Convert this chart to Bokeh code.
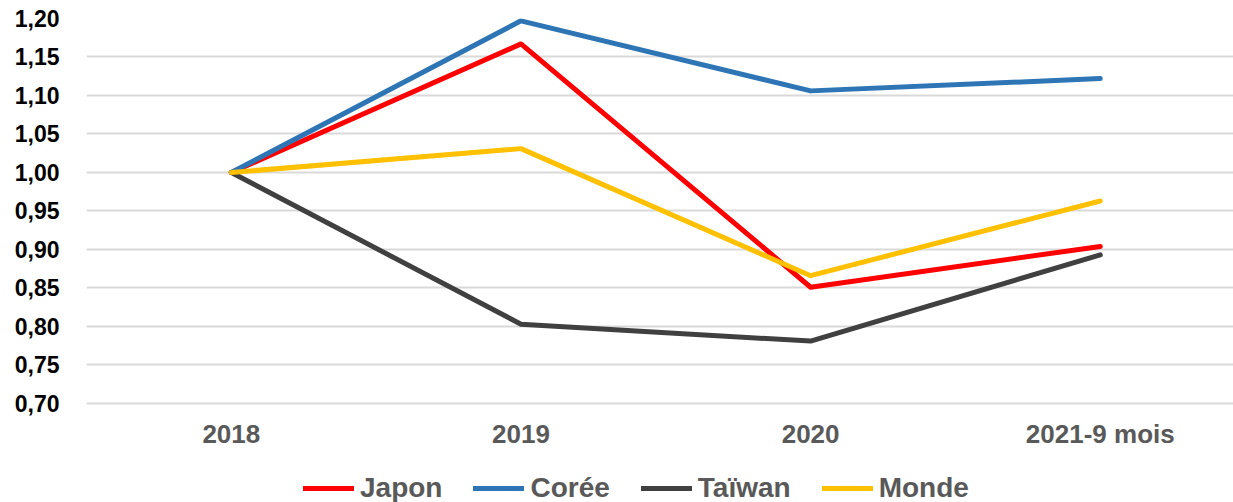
from bokeh.plotting import figure
from bokeh.models import Range1d, FixedTicker
from bokeh.embed import file_html
from bokeh.resources import INLINE

categories = ["2018", "2019", "2020", "2021-9 mois"]
japon = [1.00, 1.167, 0.851, 0.904]
coree = [1.00, 1.197, 1.106, 1.122]
taiwan = [1.00, 0.803, 0.781, 0.893]
monde = [1.00, 1.031, 0.866, 0.963]
series_names = ["Japon", "Corée", "Taïwan", "Monde"]
series_colors = ["#FF0000", "#2E75B6", "#404040", "#FFC000"]
y_ticks = [0.70, 0.75, 0.80, 0.85, 0.90, 0.95, 1.00, 1.05, 1.10, 1.15, 1.20]
y_tick_labels = ["0,70", "0,75", "0,80", "0,85", "0,90", "0,95", "1,00", "1,05", "1,10", "1,15", "1,20"]

xs = list(range(len(categories)))

p = figure(frame_width=1147, frame_height=484, output_backend="svg", toolbar_location=None,
           x_range=Range1d(-0.5, 3.46), y_range=Range1d(0.5714, 1.20),
           min_border_left=86, min_border_right=0, min_border_top=18, min_border_bottom=0)
p.outline_line_color = None

for name, vals, col in zip(series_names, [japon, coree, taiwan, monde], series_colors):
    p.line(xs, vals, line_color=col, line_width=5, line_cap="round", line_join="round",
           legend_label=name)

p.xgrid.grid_line_color = None
p.ygrid.grid_line_color = "#D9D9D9"
p.ygrid.grid_line_width = 2
p.yaxis.ticker = FixedTicker(ticks=y_ticks)
p.yaxis.major_label_overrides = {t: l for t, l in zip(y_ticks, y_tick_labels)}
p.xaxis.ticker = FixedTicker(ticks=xs)
p.xaxis.major_label_overrides = {i: c for i, c in zip(xs, categories)}
p.xaxis.fixed_location = y_ticks[0]

for ax in (p.xaxis[0], p.yaxis[0]):
    ax.axis_line_color = None
    ax.major_tick_line_color = None
    ax.minor_tick_line_color = None
    ax.major_tick_out = 0
    ax.major_tick_in = 0
    ax.minor_tick_out = 0
    ax.major_label_text_font = "Liberation Sans"
    ax.major_label_text_font_style = "bold"
p.yaxis.major_label_text_font_size = "23px"
p.xaxis.major_label_text_font_size = "26px"
p.yaxis.major_label_text_color = "#000000"
p.xaxis.major_label_text_color = "#595959"
p.yaxis.major_label_standoff = 27
p.xaxis.major_label_standoff = 16

lg = p.legend[0]
lg.orientation = "horizontal"
lg.location = (217, -2)
lg.padding = 0
lg.margin = 0
lg.glyph_width = 51
lg.glyph_height = 28
lg.label_standoff = 6
lg.spacing = 31
lg.label_text_font = "Liberation Sans"
lg.label_text_font_style = "bold"
lg.label_text_font_size = "28px"
lg.label_text_color = "#595959"
lg.border_line_color = None
lg.background_fill_alpha = 0

open("out.html", "w").write(file_html(p, INLINE))
